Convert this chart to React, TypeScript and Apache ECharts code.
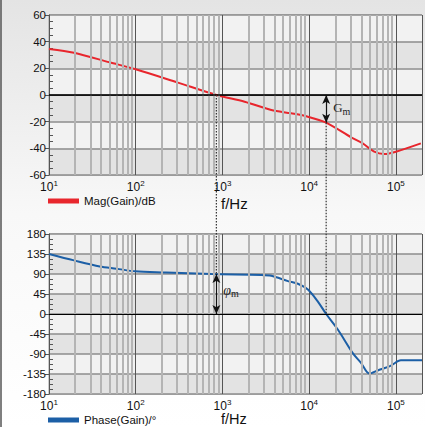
import React, { useEffect, useRef } from "react";
import * as echarts from "echarts";

// ---- data ----
const magFreqHz = [10, 19.4, 50, 100, 300, 851, 1800, 3660, 6200, 9660, 15700, 30400, 41400, 56200, 73500, 100000, 194000];
const magDb = [34.5, 31.7, 24.5, 19.3, 9.5, 0, -5, -11.25, -13.75, -16.25, -20.75, -31.7, -36.25, -42.5, -44.25, -42.5, -36.25];

const phaseFreqHz = [10, 19.4, 38.5, 60, 99, 225, 750, 2800, 3660, 5690, 7410, 9660, 12600, 15700, 21400, 31800, 39600, 49300, 61700, 87700, 114000, 200000];
const phaseDeg = [135, 120.6, 107, 102, 96, 93.6, 90, 88, 86, 74, 68, 55, 28, 0, -35, -88, -110, -134, -127, -116, -104, -104];

const gainCrossHz = 851; // 0 dB crossing
const phaseAtGainCross = 90; // phase margin end
const phaseCrossHz = 15700; // 0° phase crossing
const gainAtPhaseCross = -20.75; // gain margin end

const magTicks = { min: -60, max: 60, interval: 20 };
const phaseTicks = { min: -180, max: 180, interval: 45 };
const freqRange = { min: 10, max: 200000 };

const magName = "Mag(Gain)/dB";
const phaseName = "Phase(Gain)/°";
const freqLabel = "f/Hz";

const FONT = 'Arial, "Liberation Sans", sans-serif';
const SERIF = '"Liberation Serif", "Times New Roman", serif';

function minorFreqs(): number[] {
  const out: number[] = [];
  for (let d = freqRange.min; d < freqRange.max; d *= 10) {
    for (let k = 2; k <= 9; k++) {
      const v = k * d;
      if (v < freqRange.max) out.push(v);
    }
  }
  return out;
}

function xAxis(gi: number) {
  return {
    type: "log",
    logBase: 10,
    gridIndex: gi,
    min: freqRange.min,
    max: freqRange.max,
    axisLine: { show: true, lineStyle: { color: "#555", width: 1 } },
    axisTick: { show: true, length: 3, lineStyle: { color: "#555" } },
    axisLabel: {
      showMaxLabel: false,
      margin: 4,
      color: "#111",
      formatter: (v: number) => {
        const n = Math.log10(v);
        return Math.abs(n - Math.round(n)) < 1e-6 ? `{b|10}{s|${Math.round(n)}}` : "";
      },
      rich: {
        b: { fontSize: 12, fontFamily: FONT, color: "#111" },
        s: { fontSize: 8, fontFamily: FONT, color: "#111", padding: [0, 0, 7, 0] },
      },
    },
    splitLine: { show: true, lineStyle: { color: "#555", width: 1 } },
  };
}

function yAxis(gi: number, t: { min: number; max: number; interval: number }) {
  return {
    type: "value",
    gridIndex: gi,
    min: t.min,
    max: t.max,
    interval: t.interval,
    axisLine: { show: true, lineStyle: { color: "#555", width: 1 } },
    axisTick: { show: true, length: 4, lineStyle: { color: "#555" } },
    axisLabel: { margin: 3, color: "#111", fontSize: 11.5, fontFamily: FONT },
    splitLine: { show: true, lineStyle: { color: "#8c8c8c", width: 1.5 } },
    splitArea: { show: true, areaStyle: { color: ["#e3e3e3", "#f2f2f2"] } },
  };
}

function yMinor(gi: number, t: { min: number; max: number; interval: number }) {
  return {
    type: "value",
    gridIndex: gi,
    min: t.min,
    max: t.max,
    interval: t.interval,
    position: "left",
    axisLine: { show: false },
    axisTick: { show: false, inside: true },
    minorTick: { show: true, splitNumber: 4, length: 4, lineStyle: { color: "#555" } },
    axisLabel: { show: false },
    splitLine: { show: false },
  };
}

export default function App() {
  const ref = useRef<HTMLDivElement>(null);
  useEffect(() => {
    if (!ref.current) return;
    const chart = echarts.init(ref.current, undefined, { renderer: "svg" });
    const minors = minorFreqs();
    const minorLines = (zeroWidth: number) => ({
      silent: true,
      symbol: "none",
      label: { show: false },
      data: [
        ...minors.map((f) => ({ xAxis: f, lineStyle: { color: "#b4b4b4", width: 2, type: "solid" } })),
        { yAxis: 0, lineStyle: { color: "#000", width: zeroWidth, type: "solid" } },
      ],
    });
    const arrow = (x: number, y0: number, y1: number) => ({
      silent: true,
      symbol: ["arrow", "arrow"],
      symbolSize: [6, 9],
      label: { show: false },
      lineStyle: { color: "#111", width: 1.2, type: "solid" },
      data: [[{ coord: [x, y0] }, { coord: [x, y1] }]],
    });
    chart.setOption({
      animation: false,
      backgroundColor: {
        type: "linear",
        x: 0, y: 0, x2: 0, y2: 1,
        colorStops: [
          { offset: 0, color: "#e4e4e4" },
          { offset: 0.5, color: "#f8f8f8" },
          { offset: 1, color: "#ffffff" },
        ],
      },
      grid: [
        { left: 49, top: 15, right: 3, height: 160, show: true, borderColor: "#999", borderWidth: 1 },
        { left: 49, top: 234, right: 3, height: 160, show: true, borderColor: "#999", borderWidth: 1 },
      ],
      xAxis: [xAxis(0), xAxis(1)],
      yAxis: [yAxis(0, magTicks), yAxis(1, phaseTicks), yMinor(0, magTicks), yMinor(1, phaseTicks)],
      legend: [
        {
          data: [magName], left: 48, top: 195, padding: 0, itemWidth: 31, itemHeight: 5, icon: "rect",
          textStyle: { fontSize: 11.5, fontFamily: FONT, color: "#111" }, selectedMode: false,
        },
        {
          data: [phaseName], left: 48, top: 414, padding: 0, itemWidth: 31, itemHeight: 5, icon: "rect",
          textStyle: { fontSize: 11.5, fontFamily: FONT, color: "#111" }, selectedMode: false,
        },
      ],
      series: [
        { name: "minor0", type: "line", xAxisIndex: 0, yAxisIndex: 0, data: [], z: 1, markLine: minorLines(1.6) },
        { name: "minor1", type: "line", xAxisIndex: 1, yAxisIndex: 1, data: [], z: 1, markLine: minorLines(1.2) },
        {
          name: magName, type: "line", xAxisIndex: 0, yAxisIndex: 0, z: 3, smooth: 0.3, symbol: "none",
          color: "#e8262d", lineStyle: { color: "#e8262d", width: 2 },
          data: magFreqHz.map((f, i) => [f, magDb[i]]),
          markLine: arrow(phaseCrossHz, 0, gainAtPhaseCross),
        },
        {
          name: phaseName, type: "line", xAxisIndex: 1, yAxisIndex: 1, z: 3, smooth: 0.3, symbol: "none",
          color: "#1c5fa6", lineStyle: { color: "#1c5fa6", width: 2 },
          data: phaseFreqHz.map((f, i) => [f, phaseDeg[i]]),
          markLine: arrow(gainCrossHz, phaseAtGainCross, 0),
        },
      ],
    });

    const p0 = (x: number, y: number) => chart.convertToPixel({ xAxisIndex: 0, yAxisIndex: 0 }, [x, y]) as number[];
    const p1 = (x: number, y: number) => chart.convertToPixel({ xAxisIndex: 1, yAxisIndex: 1 }, [x, y]) as number[];
    const a = p0(gainCrossHz, 0);
    const b = p1(gainCrossHz, phaseAtGainCross);
    const c = p0(phaseCrossHz, gainAtPhaseCross);
    const d = p1(phaseCrossHz, 0);
    const gmMid = p0(phaseCrossHz, gainAtPhaseCross / 2);
    const pmMid = p1(gainCrossHz, phaseAtGainCross / 2);
    const dotted = { stroke: "#333", lineWidth: 1.2, lineDash: [1.5, 1.5] };
    chart.setOption({
      graphic: [
        { type: "line", shape: { x1: 1, y1: 0, x2: 1, y2: 427 }, style: { stroke: "#555", lineWidth: 1.5 }, z: 10 },
        { type: "line", shape: { x1: a[0], y1: a[1], x2: b[0], y2: b[1] }, style: dotted, z: 10 },
        { type: "line", shape: { x1: c[0], y1: c[1], x2: d[0], y2: d[1] }, style: dotted, z: 10 },
        {
          type: "text", x: gmMid[0] + 7, y: gmMid[1] - 1, z: 10,
          style: {
            text: "{g|G}{m|m}", verticalAlign: "middle",
            rich: {
              g: { fontFamily: SERIF, fontSize: 13, fill: "#222" },
              m: { fontFamily: SERIF, fontSize: 10, fill: "#222", padding: [7, 0, 0, 0] },
            },
          },
        },
        {
          type: "text", x: pmMid[0] + 7, y: pmMid[1] - 4, z: 10,
          style: {
            text: "{g|φ}{m|m}", verticalAlign: "middle",
            rich: {
              g: { fontFamily: SERIF, fontSize: 14, fontStyle: "italic", fill: "#222" },
              m: { fontFamily: SERIF, fontSize: 10, fill: "#222", padding: [7, 0, 0, 0] },
            },
          },
        },
        { type: "text", x: 221, y: 203, z: 10, style: { text: freqLabel, fontFamily: FONT, fontSize: 15, fill: "#111", verticalAlign: "middle" } },
        { type: "text", x: 221, y: 418.5, z: 10, style: { text: freqLabel, fontFamily: FONT, fontSize: 14.5, fill: "#111", verticalAlign: "middle" } },
      ],
    });
    return () => chart.dispose();
  }, []);
  return <div ref={ref} style={{ position: "fixed", left: 0, top: 0, width: 425, height: 427 }} />;
}
